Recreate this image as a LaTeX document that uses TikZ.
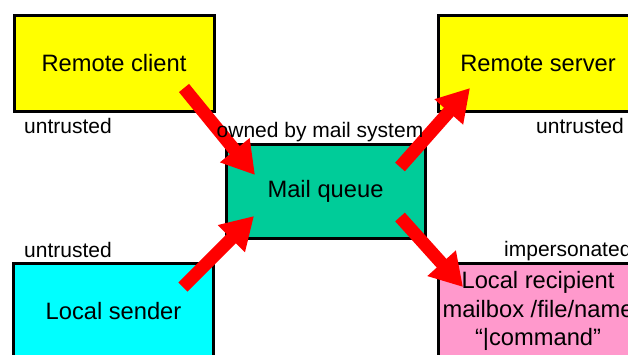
\documentclass[tikz,border=0pt]{standalone}
\usepackage{fontspec}
\setmainfont{Liberation Sans}
\usetikzlibrary{arrows.meta}
\definecolor{boxyellow}{RGB}{255,255,0}
\definecolor{queuegreen}{RGB}{0,204,153}
\definecolor{sendercyan}{RGB}{0,255,255}
\definecolor{recipientpink}{RGB}{255,153,204}
\definecolor{flowred}{RGB}{255,0,0}
\tikzset{
  box/.style={draw=black, line width=3pt, minimum width=200pt, minimum height=96pt,
    align=center, inner sep=0pt, font=\fontsize{23.7}{28.5}\selectfont},
  tag/.style={inner sep=0pt, font=\fontsize{21}{24}\selectfont},
  flow/.style={draw=flowred, line width=13pt,
    -{Triangle[width=36pt,length=32pt]}, fill=flowred},
}
\begin{document}
\begin{tikzpicture}[x=1pt,y=-1pt]
\clip (0,0) rectangle (628,354);
\fill[white] (0,0) rectangle (628,354);

% boxes
\node[box, fill=boxyellow] (client) at (114,63) {Remote client};
\node[box, fill=boxyellow] (server) at (538,63) {Remote server};
\node[box, fill=queuegreen, minimum width=199pt, minimum height=94pt] (queue) at (325.5,191) {Mail queue};
\node[box, fill=sendercyan] (sender) at (113.5,311) {Local sender};
\node[box, fill=recipientpink] (recipient) at (538,311) {Local recipient\\mailbox /file/name\\“|command”};

% flow arrows
\coordinate (c1) at (184,88);
\coordinate (q1) at (255,175);
\coordinate (q2) at (400,167);
\coordinate (s2) at (470,88);
\coordinate (c3) at (183,287);
\coordinate (q3) at (254,216);
\coordinate (q4) at (400,217);
\coordinate (r4) at (463,287);
\draw[flow] (c1) -- (q1);
\draw[flow] (q2) -- (s2);
\draw[flow] (c3) -- (q3);
\draw[flow] (q4) -- (r4);

% trust labels, printed over the arrows
\node[tag, anchor=west] (t1) at (24,126) {untrusted};
\node[tag, anchor=west] (t2) at (536,126) {untrusted};
\node[tag] (t3) at (320,132) {owned by mail system};
\node[tag, anchor=west] (t4) at (24,250) {untrusted};
\node[tag, anchor=west] (t5) at (504,251) {impersonated};
\end{tikzpicture}
\end{document}
